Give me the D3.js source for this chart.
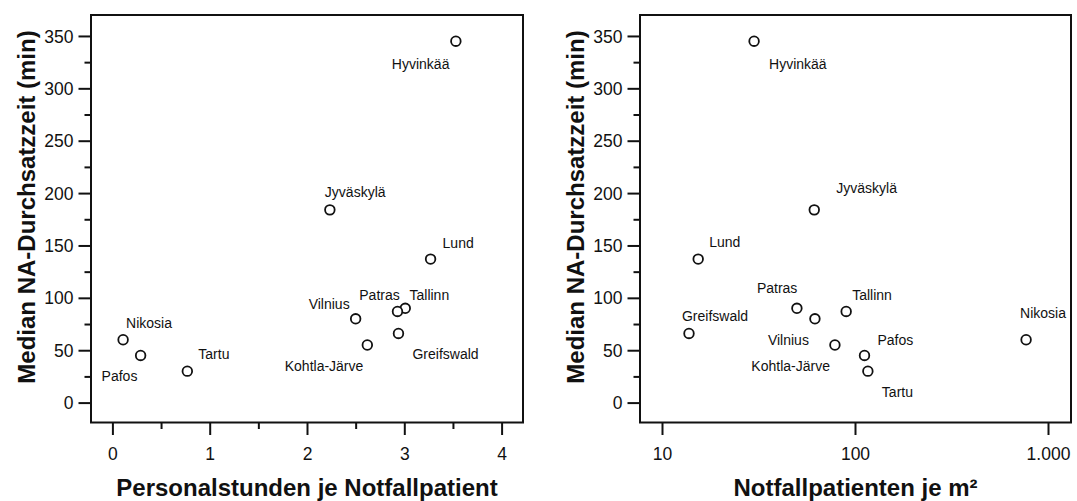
<!DOCTYPE html>
<html lang="de">
<head>
<meta charset="utf-8">
<script src="https://cdn.jsdelivr.net/npm/d3@7"></script>
<style>
  html, body { margin: 0; padding: 0; background: #fff; }
  svg { display: block; }
  text { font-family: "Liberation Sans", Arial, Helvetica, sans-serif; fill: #111; }
</style>
</head>
<body>
<svg id="chart" width="1077" height="501"></svg>
<script>
// Notaufnahmen: Median der Durchsatzzeit gegen Personaleinsatz und Patientendichte
const cities = ["Hyvinkää", "Jyväskylä", "Lund", "Patras", "Tallinn", "Vilnius",
                "Greifswald", "Kohtla-Järve", "Nikosia", "Pafos", "Tartu"];
const staffHoursPerPatient = [3.53, 2.235, 3.27, 3.01, 2.93, 2.50, 2.94, 2.62, 0.11, 0.29, 0.77];
const patientsPerSqm = [30, 61.5, 15.4, 50, 90, 62, 13.8, 78.7, 770, 112, 116.6];
const medianThroughputMin = [345, 184, 137, 90, 87, 80, 66, 55, 60, 45, 30];

const yTicks = [0, 50, 100, 150, 200, 250, 300, 350];
const yMinorTicks = [25, 75, 125, 175, 225, 275, 325];
const xTicksLeft = [0, 1, 2, 3, 4];
const xMinorTicksLeft = [0.5, 1.5, 2.5, 3.5];
const xTicksRight = [10, 100, 1000];
const xTickLabelsRight = ["10", "100", "1.000"];

const yTitle = "Median NA-Durchsatzzeit (min)";
const xTitleLeft = "Personalstunden je Notfallpatient";
const xTitleRight = "Notfallpatienten je m²";

// Label placement relative to each circle (pixels), per panel
const labelPlaceLeft = {
  "Hyvinkää":     { dx: -64, dy: 28,  anchor: "start" },
  "Jyväskylä":    { dx: -5,  dy: -13, anchor: "start" },
  "Lund":         { dx: 12,  dy: -11, anchor: "start" },
  "Patras":       { dx: -46, dy: -8,  anchor: "start" },
  "Tallinn":      { dx: 12,  dy: -11, anchor: "start" },
  "Vilnius":      { dx: -6,  dy: -10, anchor: "end" },
  "Greifswald":   { dx: 14,  dy: 26,  anchor: "start" },
  "Kohtla-Järve": { dx: -4,  dy: 26,  anchor: "end" },
  "Nikosia":      { dx: 3,   dy: -12, anchor: "start" },
  "Pafos":        { dx: -39, dy: 26,  anchor: "start" },
  "Tartu":        { dx: 11,  dy: -12, anchor: "start" }
};
const labelPlaceRight = {
  "Hyvinkää":     { dx: 15,  dy: 28,  anchor: "start" },
  "Jyväskylä":    { dx: 22,  dy: -17, anchor: "start" },
  "Lund":         { dx: 11,  dy: -12, anchor: "start" },
  "Patras":       { dx: -40, dy: -15, anchor: "start" },
  "Tallinn":      { dx: 6,   dy: -11, anchor: "start" },
  "Vilnius":      { dx: -6,  dy: 26,  anchor: "end" },
  "Greifswald":   { dx: -7,  dy: -12, anchor: "start" },
  "Kohtla-Järve": { dx: -5,  dy: 26,  anchor: "end" },
  "Nikosia":      { dx: -6,  dy: -22, anchor: "start" },
  "Pafos":        { dx: 13,  dy: -10, anchor: "start" },
  "Tartu":        { dx: 14,  dy: 26,  anchor: "start" }
};

const svg = d3.select("#chart");
const frameTop = 15, frameBottom = 422.5;

const y = d3.scaleLinear().domain([-19, 370]).range([frameBottom, frameTop]);

const panels = [
  {
    left: 91, right: 523,
    x: d3.scaleLinear().domain([-0.22, 4.22]).range([91, 523]),
    xs: staffHoursPerPatient,
    xTicks: xTicksLeft, xMinor: xMinorTicksLeft,
    xFormat: d => String(d),
    xTitle: xTitleLeft,
    place: labelPlaceLeft
  },
  {
    left: 640, right: 1071,
    x: d3.scaleLog().domain([10, 1000]).range([662, 1048]),
    xs: patientsPerSqm,
    xTicks: xTicksRight, xMinor: [],
    xFormat: d => xTickLabelsRight[xTicksRight.indexOf(d)],
    xTitle: xTitleRight,
    place: labelPlaceRight
  }
];

panels.forEach(p => {
  const g = svg.append("g");

  // y axis: major and minor ticks on the left of the frame
  const yAxis = g.append("g").attr("transform", `translate(${p.left},0)`)
    .call(d3.axisLeft(y).tickValues(yTicks).tickSize(12.5).tickPadding(5).tickFormat(d3.format("d")));
  const yMinor = g.append("g").attr("transform", `translate(${p.left},0)`)
    .call(d3.axisLeft(y).tickValues(yMinorTicks).tickSize(6.5).tickFormat(""));

  // x axis below the frame
  const xAxis = g.append("g").attr("transform", `translate(0,${frameBottom})`)
    .call(d3.axisBottom(p.x).tickValues(p.xTicks).tickSize(12.5).tickPadding(13).tickFormat(p.xFormat));
  const xMinor = g.append("g").attr("transform", `translate(0,${frameBottom})`)
    .call(d3.axisBottom(p.x).tickValues(p.xMinor).tickSize(6.5).tickFormat(""));

  [yAxis, yMinor, xAxis, xMinor].forEach(a => {
    a.select(".domain").remove();
    a.selectAll(".tick line").attr("stroke", "#111").attr("stroke-width", 2);
    a.selectAll(".tick text").style("font-size", "17.5px").attr("fill", "#111");
  });
  yAxis.selectAll(".tick text").attr("dy", "0.35em");

  // frame
  g.append("rect")
    .attr("x", p.left).attr("y", frameTop)
    .attr("width", p.right - p.left).attr("height", frameBottom - frameTop)
    .attr("fill", "none").attr("stroke", "#111").attr("stroke-width", 2);

  // axis titles
  g.append("text")
    .attr("transform", `translate(${p.left - 56.5},207) rotate(-90)`)
    .attr("text-anchor", "middle")
    .style("font-size", "24px").style("font-weight", "bold")
    .text(yTitle);
  g.append("text")
    .attr("x", (p.left + p.right) / 2).attr("y", 496)
    .attr("text-anchor", "middle")
    .style("font-size", "24px").style("font-weight", "bold")
    .text(p.xTitle);

  // points
  const pts = cities.map((c, i) => ({ name: c, x: p.xs[i], y: medianThroughputMin[i] }));
  g.selectAll("circle.pt").data(pts).join("circle")
    .attr("class", "pt")
    .attr("cx", d => p.x(d.x)).attr("cy", d => y(d.y))
    .attr("r", 4.8)
    .attr("fill", "#fff").attr("stroke", "#111").attr("stroke-width", 1.8);

  // city labels
  g.selectAll("text.lbl").data(pts).join("text")
    .attr("class", "lbl")
    .attr("x", d => p.x(d.x) + p.place[d.name].dx)
    .attr("y", d => y(d.y) + p.place[d.name].dy)
    .attr("text-anchor", d => p.place[d.name].anchor)
    .style("font-size", "14px")
    .text(d => d.name);
});
</script>
</body>
</html>
